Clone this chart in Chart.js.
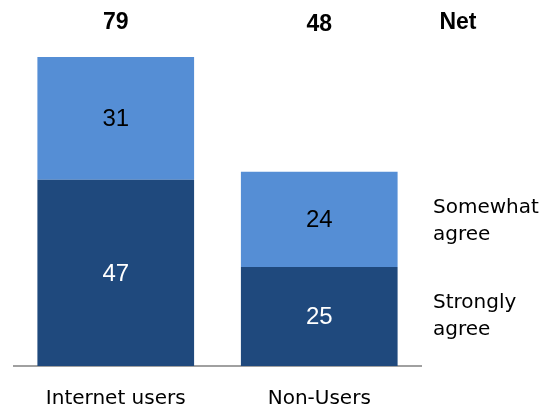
<!DOCTYPE html>
<html>
<head>
<meta charset="utf-8">
<script src="https://cdn.jsdelivr.net/npm/chart.js@4/dist/chart.umd.min.js"></script>
<style>
  html, body { margin: 0; padding: 0; background: #fff; }
  #wrap { width: 546px; height: 409px; position: relative; }
</style>
</head>
<body>
<div id="wrap"><canvas id="c" width="546" height="409"></canvas></div>
<script>
const categories = ["Internet users", "Non-Users"];
const strongly = [47, 25];
const somewhat = [31, 24];
const netValues = [79, 48];
const seriesNames = ["Strongly agree", "Somewhat agree"];
const netTitle = "Net";

const darkBlue = "#1f497d";
const lightBlue = "#558ed5";

const labelsPlugin = {
  id: "labels",
  afterDatasetsDraw(chart) {
    const ctx = chart.ctx;
    ctx.save();
    ctx.textAlign = "center";
    ctx.textBaseline = "middle";
    chart.data.datasets.forEach((ds, di) => {
      const meta = chart.getDatasetMeta(di);
      meta.data.forEach((bar, i) => {
        const v = ds.data[i];
        ctx.font = "24px 'Liberation Sans', Arial, sans-serif";
        ctx.fillStyle = di === 0 ? "#ffffff" : "#000000";
        ctx.fillText(String(v), bar.x, (bar.y + bar.base) / 2 + 1);
      });
    });
    const top = chart.getDatasetMeta(1);
    ctx.font = "bold 23px 'Liberation Sans', Arial, sans-serif";
    ctx.fillStyle = "#000";
    top.data.forEach((bar, i) => {
      ctx.fillText(String(netValues[i]), bar.x, 23 + i * 2);
    });
    ctx.fillText(netTitle, 458, 23);
    ctx.textAlign = "left";
    ctx.font = "20px 'DejaVu Sans', sans-serif";
    const lastIdx = categories.length - 1;
    const sBar = chart.getDatasetMeta(1).data[lastIdx];
    const dBar = chart.getDatasetMeta(0).data[lastIdx];
    const sMid = (sBar.y + sBar.base) / 2;
    const dMid = (dBar.y + dBar.base) / 2;
    const lx = 433;
    const drawTwo = (name, mid) => {
      const parts = name.split(" ");
      ctx.fillText(parts[0], lx, mid - 13.5);
      ctx.fillText(parts.slice(1).join(" "), lx, mid + 13.5);
    };
    drawTwo(seriesNames[1], sMid + 2);
    drawTwo(seriesNames[0], dMid);
    ctx.restore();
  }
};

new Chart(document.getElementById("c"), {
  type: "bar",
  data: {
    labels: categories,
    datasets: [
      { label: seriesNames[0], data: strongly, backgroundColor: darkBlue, borderWidth: 0 },
      { label: seriesNames[1], data: somewhat, backgroundColor: lightBlue, borderWidth: 0 }
    ]
  },
  options: {
    responsive: false,
    animation: false,
    events: [],
    layout: { padding: { left: 14, right: 125, top: 49, bottom: 0 } },
    categoryPercentage: 1.0,
    barPercentage: 0.77,
    plugins: { legend: { display: false }, tooltip: { enabled: false } },
    scales: {
      x: {
        stacked: true,
        grid: { display: false, drawTicks: false },
        border: { display: true, color: "#a0a0a0", width: 2 },
        ticks: {
          color: "#000",
          padding: 21,
          font: { family: "'DejaVu Sans', sans-serif", size: 20 }
        },
        afterFit(scale) { scale.height = 43; }
      },
      y: {
        stacked: true,
        display: false,
        min: 0,
        max: 80
      }
    }
  },
  plugins: [labelsPlugin]
});
</script>
</body>
</html>
